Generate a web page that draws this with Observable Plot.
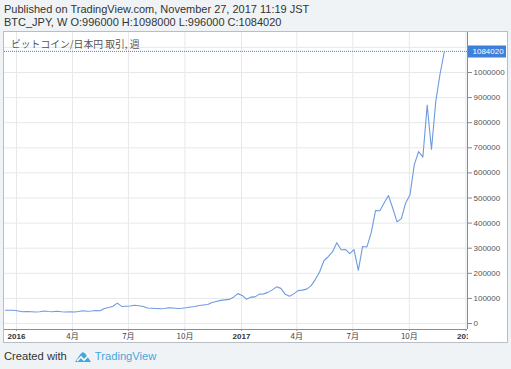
<!DOCTYPE html>
<html><head><meta charset="utf-8">
<script src="https://cdn.jsdelivr.net/npm/d3@7"></script>
<script src="https://cdn.jsdelivr.net/npm/@observablehq/plot@0.6"></script>
<style>
html,body{margin:0;padding:0;}
body{width:511px;height:369px;background:#f0f3f6;position:relative;overflow:hidden;font-family:"Liberation Sans",Arial,sans-serif;}
.hdr{position:absolute;left:4px;font-size:11px;color:#333;white-space:nowrap;line-height:13px;}
#box{position:absolute;left:3px;top:31px;width:503px;height:310px;border:1px solid #b9bdc4;background:#fff;}
#title{position:absolute;left:7px;top:6px;font-size:9.8px;line-height:12px;color:#555;font-family:"Noto Sans CJK JP",sans-serif;white-space:nowrap;}
#footer{position:absolute;left:4px;top:349px;font-size:11.2px;line-height:15px;color:#333;white-space:nowrap;display:flex;align-items:center;}
#footer .tv{color:#45a7df;margin-left:3px;}
#footer svg{margin-left:7px;}
</style></head>
<body>
<div class="hdr" style="top:3px">Published on TradingView.com, November 27, 2017 11:19 JST</div>
<div class="hdr" style="top:16px">BTC_JPY, W O:996000 H:1098000 L:996000 C:1084020</div>
<div id="box"><div id="chart"></div><div id="title">ビットコイン/日本円 取引, 週</div></div>
<div id="footer">Created with<svg width="18" height="12" viewBox="0 0 18 12"><path d="M1 11 L5 5 Q7 2 9 1 Q11 2 13 5 L17 11 Z" fill="#45a7df"/><path d="M3 10 L7 6 L10 9 L15 4" stroke="#fff" stroke-width="1.6" fill="none"/></svg><span class="tv">TradingView</span></div>
<script>
const weeks = ["2015-12-14","2015-12-21","2015-12-28","2016-01-04","2016-01-11","2016-01-18","2016-01-25","2016-02-01","2016-02-08","2016-02-15","2016-02-22","2016-02-29","2016-03-07","2016-03-14","2016-03-21","2016-03-28","2016-04-04","2016-04-11","2016-04-18","2016-04-25","2016-05-02","2016-05-09","2016-05-16","2016-05-23","2016-05-30","2016-06-06","2016-06-13","2016-06-20","2016-06-27","2016-07-04","2016-07-11","2016-07-18","2016-07-25","2016-08-01","2016-08-08","2016-08-15","2016-08-22","2016-08-29","2016-09-05","2016-09-12","2016-09-19","2016-09-26","2016-10-03","2016-10-10","2016-10-17","2016-10-24","2016-10-31","2016-11-07","2016-11-14","2016-11-21","2016-11-28","2016-12-05","2016-12-12","2016-12-19","2016-12-26","2017-01-02","2017-01-09","2017-01-16","2017-01-23","2017-01-30","2017-02-06","2017-02-13","2017-02-20","2017-02-27","2017-03-06","2017-03-13","2017-03-20","2017-03-27","2017-04-03","2017-04-10","2017-04-17","2017-04-24","2017-05-01","2017-05-08","2017-05-15","2017-05-22","2017-05-29","2017-06-05","2017-06-12","2017-06-19","2017-06-26","2017-07-03","2017-07-10","2017-07-17","2017-07-24","2017-07-31","2017-08-07","2017-08-14","2017-08-21","2017-08-28","2017-09-04","2017-09-11","2017-09-18","2017-09-25","2017-10-02","2017-10-09","2017-10-16","2017-10-23","2017-10-30","2017-11-06","2017-11-13","2017-11-20","2017-11-27"];
const closes = [53000,53000,53000,50000,47000,48000,47000,46000,47000,50000,48000,47000,49000,47000,46000,47000,46000,48000,51000,49000,50000,52000,51000,60000,64000,69000,81000,68000,69000,70000,73000,71000,68000,62000,61000,60000,59000,60000,63000,62000,60000,61000,63000,66000,68000,72000,74000,76000,84000,88000,92000,94000,96000,105000,119000,112000,97000,105000,106000,117000,118000,124000,134000,146000,140000,117000,109000,118000,131000,133000,137000,150000,175000,205000,250000,266000,285000,322000,294000,295000,278000,294000,212000,307000,305000,362000,450000,449000,480000,510000,459000,405000,418000,480000,512000,632000,685000,663000,870000,693000,885000,995000,1084020];
const lastClose = 1084020;
const yTicks = [0,100000,200000,300000,400000,500000,600000,700000,800000,900000,1000000];
const yGrid = [0,100000,200000,300000,400000,500000,600000,700000,800000,900000,1000000,1100000];
const xTicks = ["2016-01-01","2016-04-01","2016-07-01","2016-10-01","2017-01-01","2017-04-01","2017-07-01","2017-10-01","2018-01-01"];
const xTickLabels = ["2016","4月","7月","10月","2017","4月","7月","10月","2018"];

const data = weeks.map((w, i) => ({date: new Date(w + "T00:00Z"), close: closes[i]}));
const tickDates = xTicks.map(d => new Date(d + "T00:00Z"));
const labelOf = new Map(tickDates.map((d, i) => [+d, xTickLabels[i]]));
const yearTicks = tickDates.filter(d => /^\d{4}$/.test(labelOf.get(+d)));
const monthTicks = tickDates.filter(d => !/^\d{4}$/.test(labelOf.get(+d)));
const xDomain = [new Date("2015-12-12T12:00Z"), new Date("2018-01-03T14:00Z")];
const yDomain = [-23904, 1159363];

const chart = Plot.plot({
  width: 503, height: 310,
  marginLeft: 0, marginRight: 40, marginTop: 0, marginBottom: 13,
  style: {fontFamily: "'Liberation Sans', Arial, sans-serif", fontSize: "8px", color: "#444", background: "transparent", overflow: "visible"},
  x: {type: "utc", domain: xDomain, label: null},
  y: {domain: yDomain, label: null},
  marks: [
    Plot.gridX(tickDates, {stroke: "#e7e8ea", strokeOpacity: 1}),
    Plot.gridY(yGrid, {stroke: "#e7e8ea", strokeOpacity: 1}),
    Plot.ruleY([lastClose], {stroke: "#4a84d6", strokeDasharray: "1,1", strokeWidth: 1}),
    Plot.line(data, {x: "date", y: "close", stroke: "#6d9be0", strokeWidth: 1.1}),
    Plot.ruleX([xDomain[1]], {stroke: "#888c94"}),
    Plot.ruleY([yDomain[0]], {stroke: "#888c94"}),
    Plot.axisY(yTicks, {anchor: "right", label: null, tickSize: 4, tickPadding: 2, tickFormat: d => String(d), stroke: "#888c94", fill: "#555"}),
    Plot.axisX(yearTicks, {anchor: "bottom", label: null, tickSize: 2, tickPadding: 2, tickFormat: d => labelOf.get(+d), fontWeight: "bold", fill: "#333", stroke: "#888c94"}),
    Plot.axisX(monthTicks, {anchor: "bottom", label: null, tickSize: 2, tickPadding: 2, tickFormat: d => labelOf.get(+d), fill: "#444", stroke: "#888c94", fontFamily: "'Noto Sans CJK JP', sans-serif"}),
    Plot.ruleY([lastClose], {stroke: "#3d7fd9", strokeWidth: 12, insetLeft: 464, insetRight: -39}),
    Plot.text([lastClose], {y: d => d, frameAnchor: "right", dx: 5, textAnchor: "start", text: d => String(d), fill: "#fff"})
  ]
});
document.getElementById("chart").appendChild(chart);
const svg = d3.select(chart);
svg.append("defs").append("clipPath").attr("id", "xclip").append("rect").attr("x", -5).attr("y", 290).attr("width", 468.5).attr("height", 30);
svg.selectAll('g[aria-label="x-axis tick label"]').attr("clip-path", "url(#xclip)");
</script>
</body></html>
